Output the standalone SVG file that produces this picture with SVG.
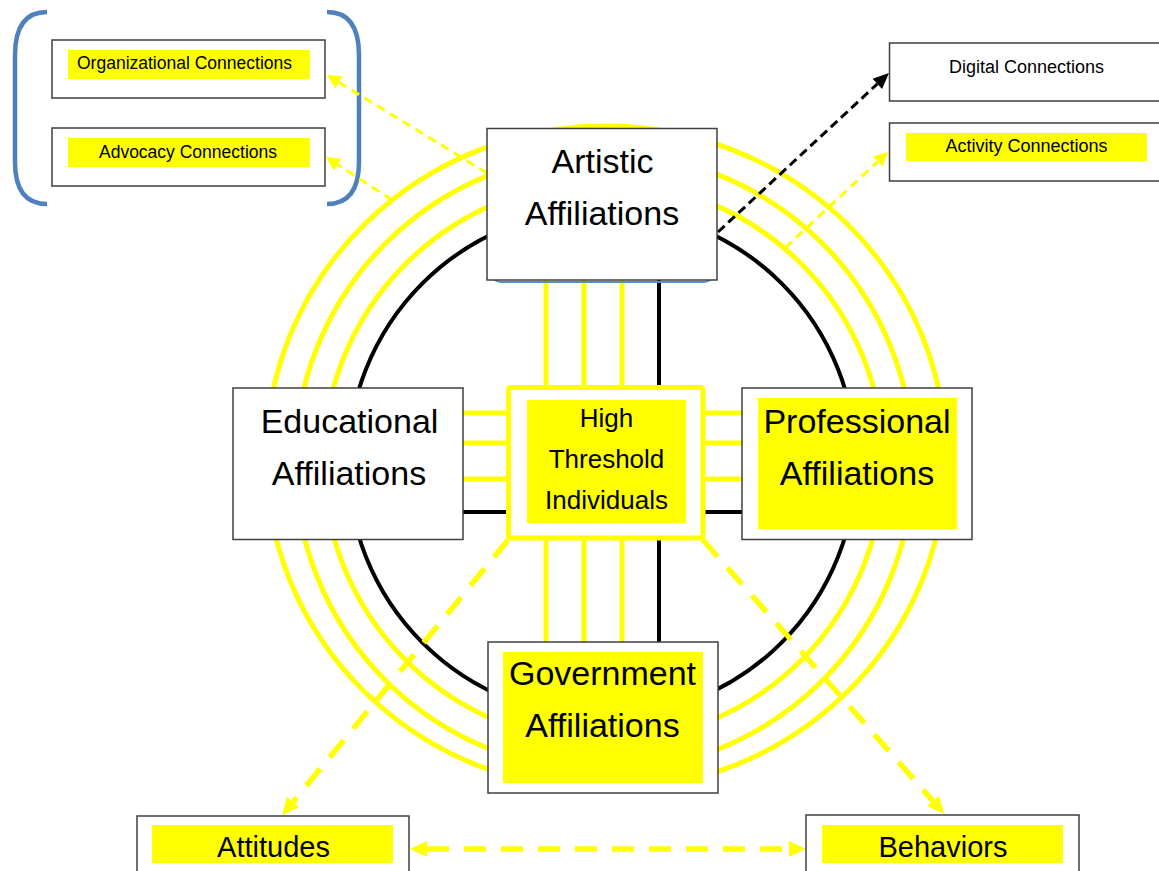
<svg xmlns="http://www.w3.org/2000/svg" width="1159" height="871" viewBox="0 0 1159 871">
<style>
  .box{fill:#fff;stroke:#3f3f3f;stroke-width:1.5}
  .hl{fill:#ffff00}
  .ring{fill:none;stroke:#ffff00;stroke-width:5}
  .bring{fill:none;stroke:#000;stroke-width:4}
  .yspoke{stroke:#ffff00;stroke-width:5;fill:none}
  .kspoke{stroke:#000;stroke-width:4;fill:none}
  .thin{stroke:#ffff00;stroke-width:3;stroke-dasharray:9 6;fill:none}
  .thick{stroke:#ffff00;stroke-width:5.5;stroke-dasharray:22 15;fill:none}
  .blk{stroke:#000;stroke-width:3;stroke-dasharray:9 5;fill:none}
  .big{font-family:"Liberation Sans",Arial,sans-serif;font-size:34px;fill:#000;text-anchor:middle}
  .mid{font-family:"Liberation Sans",Arial,sans-serif;font-size:26px;fill:#000;text-anchor:middle}
  .sm{font-family:"Liberation Sans",Arial,sans-serif;font-size:17.5px;fill:#000;text-anchor:middle}
  .att{font-family:"Liberation Sans",Arial,sans-serif;font-size:29px;fill:#000;text-anchor:middle}
  .bracket{fill:none;stroke:#4f81bd;stroke-width:4.5}
</style>
<defs>
  <marker id="ay" markerUnits="userSpaceOnUse" markerWidth="16" markerHeight="14" refX="0" refY="7" orient="auto" overflow="visible">
    <path d="M0,0 L14,7 L0,14 z" fill="#ffff00"/>
  </marker>
  <marker id="ak" markerUnits="userSpaceOnUse" markerWidth="18" markerHeight="14" refX="0" refY="7" orient="auto" overflow="visible">
    <path d="M0,0 L16,7 L0,14 z" fill="#000"/>
  </marker>
  <marker id="ab" markerUnits="userSpaceOnUse" markerWidth="18" markerHeight="16" refX="0" refY="8" orient="auto-start-reverse" overflow="visible">
    <path d="M0,0 L17,8 L0,16 z" fill="#ffff00"/>
  </marker>
</defs>
<rect width="1159" height="871" fill="#fff"/>

<g id="rings">
  <ellipse class="ring" cx="606" cy="458" rx="340" ry="332"/>
  <circle class="ring" cx="604" cy="462" r="309"/>
  <circle class="ring" cx="603.5" cy="462" r="280"/>
  <circle class="bring" cx="602" cy="463" r="254"/>
</g>

<g id="bracket">
  <path class="bracket" d="M47,12 Q15,12 15,55 L15,162 Q15,204 47,204"/>
  <path class="bracket" d="M327,12 Q359,12 359,55 L359,162 Q359,204 327,204"/>
</g>

<g id="connectors">
  <line class="yspoke" x1="546" y1="280" x2="546" y2="642"/>
  <line class="yspoke" x1="584" y1="280" x2="584" y2="642"/>
  <line class="yspoke" x1="622" y1="280" x2="622" y2="642"/>
  <line class="kspoke" x1="659" y1="280" x2="659" y2="642"/>
  <line class="yspoke" x1="463" y1="413" x2="742" y2="413"/>
  <line class="yspoke" x1="463" y1="443" x2="742" y2="443"/>
  <line class="yspoke" x1="463" y1="479" x2="742" y2="479"/>
  <line class="kspoke" x1="463" y1="512" x2="742" y2="512"/>
  <path class="thin" d="M487,173 L339,82.3" marker-end="url(#ay)"/>
  <path class="thin" d="M392,200 L337.7,164.6" marker-end="url(#ay)"/>
  <path class="blk" d="M718,232 L877.3,83.9" marker-end="url(#ak)"/>
  <path class="thin" d="M785,248 L877.8,161.5" marker-end="url(#ay)"/>
  <path class="thick" d="M508,540 L293,802" marker-end="url(#ab)"/>
  <path class="thick" d="M703,540 L933,801" marker-end="url(#ab)"/>
  <path class="thick" d="M427,849 L789,849" marker-start="url(#ab)" marker-end="url(#ab)"/>
</g>

<g id="artistic">
  <rect x="490" y="131" width="225" height="151" rx="12" fill="none" stroke="#5b8cc8" stroke-width="2"/>
  <rect class="box" x="487" y="128.5" width="230" height="151.5"/>
  <text class="big" x="602.5" y="173">Artistic</text>
  <text class="big" x="602" y="225">Affiliations</text>
</g>

<g id="educational">
  <rect class="box" x="233" y="388" width="230" height="151.5"/>
  <text class="big" x="349.5" y="433">Educational</text>
  <text class="big" x="349" y="485">Affiliations</text>
</g>

<g id="professional">
  <rect class="box" x="742" y="388" width="230" height="151.5"/>
  <rect class="hl" x="758" y="398" width="199" height="131"/>
  <text class="big" x="857" y="433">Professional</text>
  <text class="big" x="857" y="485">Affiliations</text>
</g>

<g id="government">
  <rect class="box" x="488" y="642" width="230" height="151"/>
  <rect class="hl" x="503" y="652" width="200" height="131"/>
  <text class="big" x="602.5" y="685">Government</text>
  <text class="big" x="602.5" y="737">Affiliations</text>
</g>

<g id="hti">
  <rect x="508.5" y="387.5" width="194.5" height="150.5" rx="2" fill="#fff" stroke="#ffff00" stroke-width="5"/>
  <rect class="hl" x="527" y="400" width="159" height="123"/>
  <text class="mid" x="606.5" y="427">High</text>
  <text class="mid" x="606.5" y="468">Threshold</text>
  <text class="mid" x="606.5" y="509">Individuals</text>
</g>

<g id="organizational">
  <rect class="box" x="52" y="40" width="273" height="58"/>
  <rect class="hl" x="68" y="50" width="242" height="29"/>
  <text class="sm" x="184.5" y="69">Organizational Connections</text>
</g>

<g id="advocacy">
  <rect class="box" x="52" y="128" width="273" height="58"/>
  <rect class="hl" x="68" y="138" width="242" height="29"/>
  <text class="sm" x="188" y="158">Advocacy Connections</text>
</g>

<g id="digital">
  <rect class="box" x="889.5" y="43" width="280" height="58"/>
  <text class="sm" x="1026.5" y="73" style="font-size:18px">Digital Connections</text>
</g>

<g id="activity">
  <rect class="box" x="889.5" y="123" width="280" height="58"/>
  <rect class="hl" x="906" y="133" width="241" height="28"/>
  <text class="sm" x="1026.5" y="152" style="font-size:18px">Activity Connections</text>
</g>

<g id="attitudes">
  <rect class="box" x="137" y="816" width="272" height="70"/>
  <rect class="hl" x="152" y="825" width="241" height="38"/>
  <text class="att" x="273.5" y="857">Attitudes</text>
</g>

<g id="behaviors">
  <rect class="box" x="806" y="815" width="273" height="70"/>
  <rect class="hl" x="822" y="825" width="241" height="38"/>
  <text class="att" x="943" y="857">Behaviors</text>
</g>
</svg>
